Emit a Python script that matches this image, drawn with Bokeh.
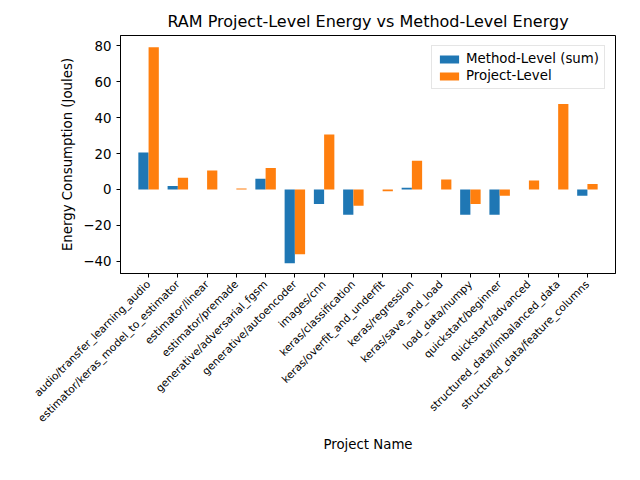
import math
from bokeh.plotting import figure
from bokeh.models import ColumnDataSource, Range1d, FixedTicker
from bokeh.embed import file_html
from bokeh.resources import INLINE

projects = [
    "audio/transfer_learning_audio", "estimator/keras_model_to_estimator",
    "estimator/linear", "estimator/premade", "generative/adversarial_fgsm",
    "generative/autoencoder", "images/cnn", "keras/classification",
    "keras/overfit_and_underfit", "keras/regression", "keras/save_and_load",
    "load_data/numpy", "quickstart/beginner", "quickstart/advanced",
    "structured_data/imbalanced_data", "structured_data/feature_columns",
]
method_level = [20.5, 2, 0, 0, 6, -41, -8, -14, 0, 1, 0, -14, -14, 0, 0, -3.5]
project_level = [79, 6.5, 10.5, 0.5, 12, -36, 30.5, -9, -1, 16, 5.5, -8, -3.5, 5, 47.5, 3]

idx = list(range(len(projects)))
width = 0.35
src = ColumnDataSource(dict(
    xm=[i - width / 2 for i in idx], xp=[i + width / 2 for i in idx],
    m=method_level, pr=project_level,
))

p = figure(width=624, height=464, output_backend="svg", toolbar_location=None,
           title="RAM Project-Level Energy vs Method-Level Energy",
           x_range=Range1d(-0.96, 15.96), y_range=Range1d(-46.7, 85.6),
           x_axis_label="Project Name", y_axis_label="Energy Consumption (Joules)",
           min_border_left=120, min_border_top=35, min_border_right=9, min_border_bottom=191)
p.frame_width = 495
p.frame_height = 238

p.vbar(x="xm", top="m", bottom=0, width=width, source=src, fill_color="#1f77b4",
       line_color=None, legend_label="Method-Level (sum)")
p.vbar(x="xp", top="pr", bottom=0, width=width, source=src, fill_color="#ff7f0e",
       line_color=None, legend_label="Project-Level")

p.title.align = "center"
p.title.text_font = "DejaVu Sans"
p.title.text_font_size = "12pt"
p.title.text_font_style = "normal"
p.title.text_color = "black"
p.grid.visible = False
p.xaxis.ticker = FixedTicker(ticks=idx)
p.xaxis.major_label_overrides = {i: n for i, n in enumerate(projects)}
p.xaxis.major_label_orientation = math.pi / 4
p.yaxis.ticker = FixedTicker(ticks=[-40, -20, 0, 20, 40, 60, 80])
p.xaxis.minor_tick_line_color = None
p.yaxis.minor_tick_line_color = None
for ax in (p.xaxis, p.yaxis):
    ax.major_label_text_font = "DejaVu Sans"
    ax.major_label_text_color = "black"
    ax.axis_label_text_font = "DejaVu Sans"
    ax.axis_label_text_color = "black"
    ax.axis_label_text_font_size = "10pt"
    ax.axis_label_text_font_style = "normal"
    ax.major_tick_in = 0
    ax.major_tick_out = 4
p.xaxis.major_label_text_font_size = "8pt"
p.yaxis.major_label_text_font_size = "10pt"
p.outline_line_color = "black"
p.legend.location = "top_right"
p.legend.label_text_font = "DejaVu Sans"
p.legend.label_text_font_size = "10pt"
p.legend.label_text_color = "black"
p.legend.glyph_width = 24
p.legend.glyph_height = 10
p.legend.spacing = 2
p.legend.padding = 5
p.legend.border_line_color = "#cccccc"

open("out.html", "w").write(file_html(p, INLINE))
